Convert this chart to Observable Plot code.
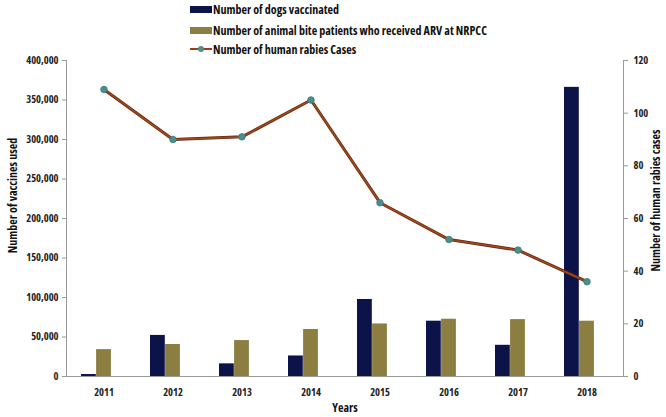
<!DOCTYPE html>
<html>
<head>
<meta charset="utf-8">
<script src="https://cdn.jsdelivr.net/npm/d3@7"></script>
<script src="https://cdn.jsdelivr.net/npm/@observablehq/plot@0.6"></script>
<style>
  html, body { margin: 0; padding: 0; background: #fff; }
  body { width: 666px; height: 417px; overflow: hidden; font-family: "Open Sans", sans-serif; font-stretch: 75%; }
  #legend { height: 52px; position: relative; font-weight: bold; font-size: 12px; color: #111; }
  .item { position: absolute; left: 190px; display: flex; align-items: center; height: 16px; }
  .sw { width: 22px; height: 7px; margin-right: 1px; }
  .ln { width: 22px; height: 8px; margin-right: 1px; position: relative; }
  .ln::before { content: ""; position: absolute; left: 0; right: 0; top: 3px; height: 2px; background: #9c3c12; }
  .ln::after { content: ""; position: absolute; left: 8px; top: 1px; width: 6px; height: 6px; border-radius: 50%; background: #4b8f8c; }
  svg { display: block; font-family: "Open Sans", sans-serif; font-stretch: 75%; font-weight: bold; }
</style>
</head>
<body>
<div id="legend"></div>
<div id="chart"></div>
<script>
const years = ["2011","2012","2013","2014","2015","2016","2017","2018"];
const dogsVaccinated = [2500, 52000, 16000, 26000, 97500, 70000, 39500, 366000];
const arvPatients = [34000, 40500, 45500, 59500, 66500, 72500, 72000, 70000];
const rabiesCases = [109, 90, 91, 105, 66, 52, 48, 36];
const leftTicks = [0, 50000, 100000, 150000, 200000, 250000, 300000, 350000, 400000];
const rightTicks = [0, 20, 40, 60, 80, 100, 120];
const seriesNames = ["Number of dogs vaccinated", "Number of animal bite patients who received ARV at NRPCC", "Number of human rabies Cases"];
const colors = { dogs: "#0b1349", arv: "#8b7e40", line: "#a3461a", lineEdge: "#5e2a12", dot: "#4b8f8c" };

const k = 400000 / 120;
const rows = years.map((y, i) => ({ year: y, dogs: dogsVaccinated[i], arv: arvPatients[i], cases: rabiesCases[i], casesScaled: rabiesCases[i] * k }));

// legend
const legend = document.getElementById("legend");
const tops = [1, 22, 41];
seriesNames.forEach((name, i) => {
  const it = document.createElement("div");
  it.className = "item";
  it.style.top = tops[i] + "px";
  const sw = document.createElement("div");
  if (i < 2) { sw.className = "sw"; sw.style.background = i === 0 ? colors.dogs : colors.arv; }
  else sw.className = "ln";
  it.appendChild(sw);
  const t = document.createElement("span");
  t.textContent = name;
  it.appendChild(t);
  legend.appendChild(it);
});

const chart = Plot.plot({
  width: 666,
  height: 365,
  marginTop: 8,
  marginBottom: 41,
  marginLeft: 66,
  marginRight: 43,
  style: { fontSize: "10.5px", fontWeight: "bold", color: "#222", overflow: "visible" },
  x: { domain: years, type: "band", paddingInner: 0.35, paddingOuter: 0.175, axis: null },
  y: { domain: [0, 400000], axis: null },
  marks: [
    Plot.barY(rows, { x: "year", y: "dogs", fill: colors.dogs, insetRight: 30.2 }),
    Plot.barY(rows, { x: "year", y: "arv", fill: colors.arv, insetLeft: 15.1, insetRight: 15.1 }),
    Plot.frame({ anchor: "left", stroke: "#9a9a9a" }),
    Plot.frame({ anchor: "right", stroke: "#9a9a9a" }),
    Plot.ruleY([0], { stroke: "#9a9a9a" }),
    Plot.axisY({ ticks: leftTicks, tickSize: 4, tickPadding: 4, stroke: "#9a9a9a", tickFormat: d => d3.format(",")(d), label: null, fill: "#222" }),
    Plot.axisY({ anchor: "right", ticks: rightTicks.map(v => v * k), tickSize: 4, tickPadding: 6, stroke: "#9a9a9a", tickFormat: d => Math.round(d / k), label: null, fill: "#222" }),
    Plot.axisX({ tickSize: 0, tickPadding: 12, label: null, fill: "#222" }),
    Plot.line(rows, { x: "year", y: "casesScaled", stroke: colors.lineEdge, strokeWidth: 3 }),
    Plot.line(rows, { x: "year", y: "casesScaled", stroke: colors.line, strokeWidth: 1.6 }),
    Plot.dot(rows, { x: "year", y: "casesScaled", r: 3.3, fill: colors.dot, stroke: "#3a7878", strokeWidth: 0.8 }),
    Plot.text(["Number of vaccines used"], { frameAnchor: "left", textAnchor: "middle", rotate: -90, dx: -53, dy: -23, fontSize: 12, fill: "#111" }),
    Plot.text(["Number of human rabies cases"], { frameAnchor: "right", textAnchor: "middle", rotate: -90, dx: 33, dy: -18, fontSize: 12, fill: "#111" }),
    Plot.text(["Years"], { frameAnchor: "bottom", dy: 35, fontSize: 12, fill: "#111" })
  ]
});
document.getElementById("chart").appendChild(chart);
</script>
</body>
</html>
